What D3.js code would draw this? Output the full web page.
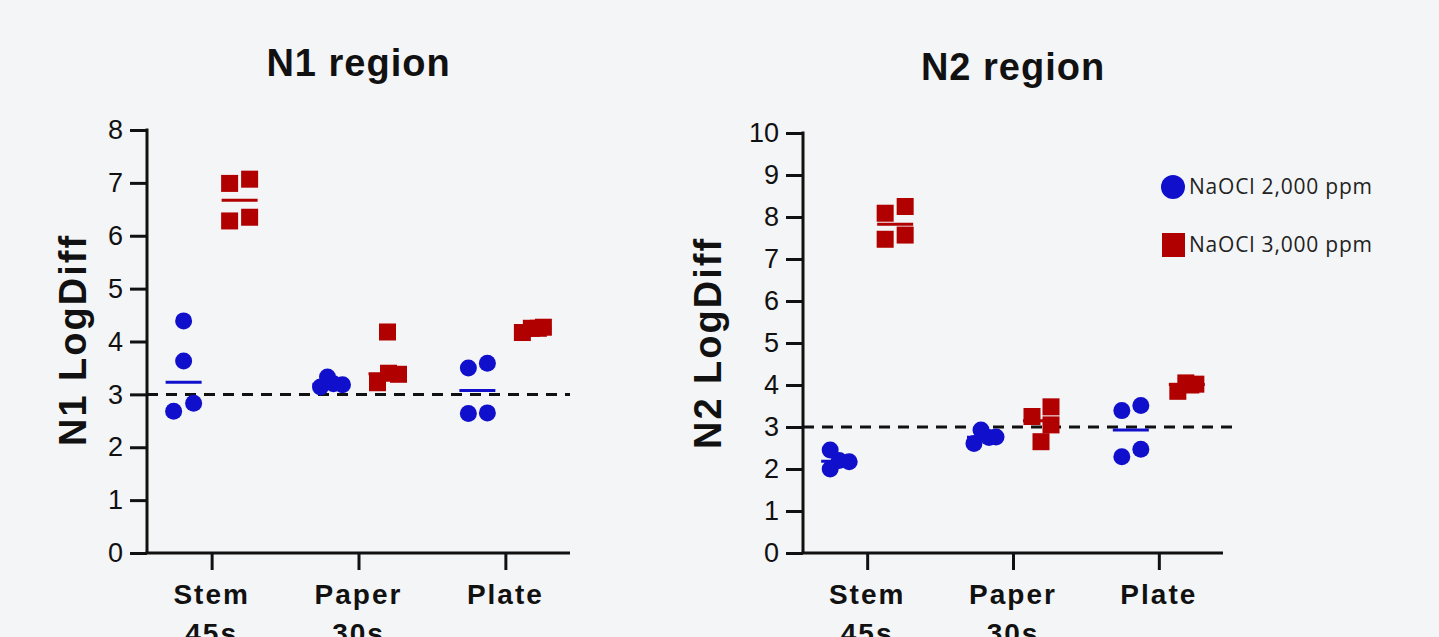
<!DOCTYPE html>
<html>
<head>
<meta charset="utf-8">
<script src="https://cdn.jsdelivr.net/npm/d3@7"></script>
<style>
  body { margin: 0; background: #f4f5f7; }
  svg { display: block; }
</style>
</head>
<body>
<svg id="chart" width="1439" height="637"></svg>
<script>
// category labels (multi-line)
const categories = ["Stem", "Paper", "Plate"];
const categorySubLabels = ["45s", "30s", ""];
const seriesNames = ["NaOCl 2,000 ppm", "NaOCl 3,000 ppm"];

// N1 region values, one array per category, 4 replicates each
const n1Low = [[4.39, 3.63, 2.83, 2.68], [3.33, 3.14, 3.20, 3.18], [3.50, 3.59, 2.64, 2.65]];
const n1High = [[6.99, 7.07, 6.28, 6.35], [4.18, 3.40, 3.38, 3.22], [4.17, 4.25, 4.27, 4.25]];

// N2 region values
const n2Low = [[2.45, 2.00, 2.20, 2.17], [2.61, 2.93, 2.75, 2.76], [3.39, 3.51, 2.29, 2.47]];
const n2High = [[8.09, 8.25, 7.47, 7.57], [3.25, 3.48, 3.05, 2.65], [3.85, 4.05, 4.02, 4.00]];

const threshold = 3;

// layout: horizontal scatter of replicates (px), same shape as the data
const n1LowJitter = [[0, 0, 10, -10], [-3, -10, 3, 12], [-9, 10, -9, 10]];
const n1HighJitter = [[-10, 10, -10, 10], [1, 2, 12, -9], [-11, -2, 10, 5]];
const n2LowJitter = [[-9, -9, 0, 10], [-11, -4, 4, 11], [-9, 10, -9, 10]];
const n2HighJitter = [[-10, 10, -10, 10], [-9, 10, 10, 0], [-9, -1, 9, 4]];

const blue = "#1010cc";
const red = "#b00000";
const ink = "#111";
const sans = "Liberation Sans, Arial, sans-serif";

const svg = d3.select("#chart");

function drawPanel(opts) {
  const g = svg.append("g");
  const x = d3.scalePoint().domain(categories).range([opts.left, opts.right]).padding(0.44);
  const y = d3.scaleLinear().domain([0, opts.yMax]).range([553, opts.top]);

  // threshold line
  g.append("line")
    .attr("x1", opts.left).attr("x2", opts.dashEnd)
    .attr("y1", y(threshold)).attr("y2", y(threshold))
    .attr("stroke", ink).attr("stroke-width", 3).attr("stroke-dasharray", "11,8");

  const yAxis = g.append("g").attr("transform", `translate(${opts.left},0)`)
    .call(d3.axisLeft(y).ticks(opts.yMax).tickSize(17).tickSizeOuter(0).tickPadding(7));
  const xAxis = g.append("g").attr("transform", "translate(0,553)")
    .call(d3.axisBottom(x).tickSize(17).tickSizeOuter(0).tickFormat(() => ""));

  [yAxis, xAxis].forEach(a => {
    a.selectAll("path, line").attr("stroke", ink).attr("stroke-width", 3);
  });
  yAxis.select(".domain").attr("d", `M0,${opts.top - 1.5}V553`);
  xAxis.select(".domain").attr("d", `M${opts.left - 1.5},0H${opts.right}`);
  yAxis.selectAll("text").attr("font-family", sans)
    .attr("font-size", 27).attr("fill", ink);

  // category labels
  const labels = g.append("g");
  categories.forEach((c, i) => {
    const t = labels.append("text").attr("x", x(c)).attr("y", 604)
      .attr("text-anchor", "middle").attr("font-family", sans)
      .attr("font-size", 28).attr("font-weight", "bold").attr("letter-spacing", 2).attr("fill", ink);
    t.append("tspan").attr("x", x(c)).text(c);
    if (categorySubLabels[i]) t.append("tspan").attr("x", x(c)).attr("dy", 39).text(categorySubLabels[i]);
  });

  // titles
  g.append("text").attr("x", (opts.left + opts.right) / 2).attr("y", opts.titleY)
    .attr("text-anchor", "middle").attr("font-family", sans)
    .attr("font-size", 38).attr("font-weight", "bold").attr("letter-spacing", 1).attr("fill", ink)
    .text(opts.title);
  g.append("text").attr("transform", `translate(${opts.yTitleX},${opts.yTitleY}) rotate(-90)`)
    .attr("text-anchor", "middle").attr("font-family", sans)
    .attr("font-size", 38).attr("font-weight", "bold").attr("letter-spacing", 2).attr("fill", ink)
    .text(opts.yTitle);

  const groupShift = 28;
  const series = [
    { vals: opts.low, jit: opts.lowJitter, color: blue, shift: -groupShift, shape: "circle" },
    { vals: opts.high, jit: opts.highJitter, color: red, shift: groupShift, shape: "square" }
  ];

  series.forEach(s => {
    categories.forEach((c, i) => {
      const cx = x(c) + s.shift;
      const pts = s.vals[i].map((v, j) => ({ x: cx + s.jit[i][j], y: y(v) }));
      if (s.shape === "circle") {
        g.append("g").selectAll("circle").data(pts).join("circle")
          .attr("cx", d => d.x).attr("cy", d => d.y).attr("r", 8.5).attr("fill", s.color);
      } else {
        g.append("g").selectAll("rect").data(pts).join("rect")
          .attr("x", d => d.x - 8.5).attr("y", d => d.y - 8.5)
          .attr("width", 17).attr("height", 17).attr("fill", s.color);
      }
      const med = d3.median(s.vals[i]);
      g.append("line").attr("x1", cx - 18).attr("x2", cx + 18)
        .attr("y1", y(med)).attr("y2", y(med))
        .attr("stroke", s.color).attr("stroke-width", 3);
    });
  });
}

drawPanel({
  left: 147, right: 570, top: 130, yMax: 8, dashEnd: 570,
  low: n1Low, high: n1High, lowJitter: n1LowJitter, highJitter: n1HighJitter,
  title: "N1 region", titleY: 76, yTitle: "N1 LogDiff", yTitleX: 86, yTitleY: 340
});

drawPanel({
  left: 803, right: 1223, top: 133, yMax: 10, dashEnd: 1238,
  low: n2Low, high: n2High, lowJitter: n2LowJitter, highJitter: n2HighJitter,
  title: "N2 region", titleY: 80, yTitle: "N2 LogDiff", yTitleX: 721, yTitleY: 343
});

// legend
const legend = svg.append("g").attr("font-family", "Open Sans, sans-serif").attr("font-size", 21)
  .attr("letter-spacing", 0.8).attr("fill", "#222");
legend.append("circle").attr("cx", 1173).attr("cy", 187).attr("r", 12).attr("fill", blue);
legend.append("rect").attr("x", 1162).attr("y", 233).attr("width", 23).attr("height", 24).attr("fill", red);
legend.append("text").attr("x", 1189).attr("y", 194).text(seriesNames[0]);
legend.append("text").attr("x", 1189).attr("y", 252).text(seriesNames[1]);
</script>
</body>
</html>
